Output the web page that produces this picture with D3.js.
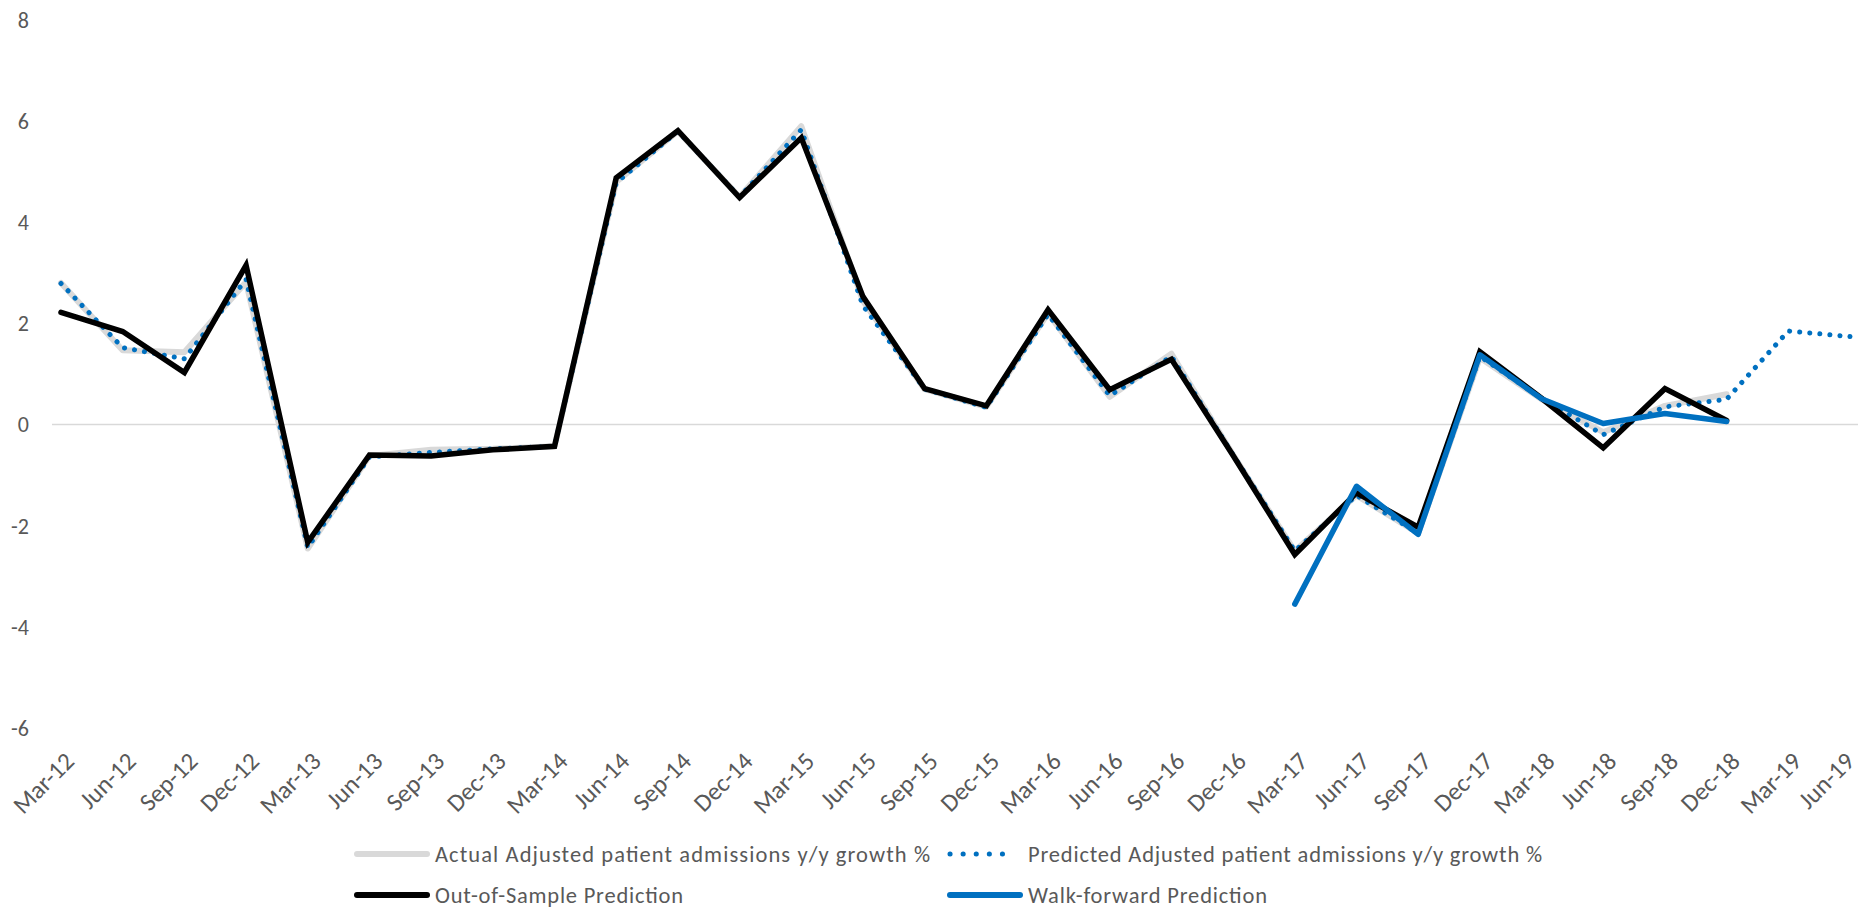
<!DOCTYPE html>
<html>
<head>
<meta charset="utf-8">
<script src="https://cdn.jsdelivr.net/npm/d3@7"></script>
<style>
  html, body { margin: 0; padding: 0; background: #fff; }
  svg { display: block; }
  text { font-family: Carlito, Calibri, Lato, sans-serif; fill: #595959; }
</style>
</head>
<body>
<svg id="chart" width="1864" height="908"></svg>
<script>
const categories = ["Mar-12","Jun-12","Sep-12","Dec-12","Mar-13","Jun-13","Sep-13","Dec-13","Mar-14","Jun-14","Sep-14","Dec-14","Mar-15","Jun-15","Sep-15","Dec-15","Mar-16","Jun-16","Sep-16","Dec-16","Mar-17","Jun-17","Sep-17","Dec-17","Mar-18","Jun-18","Sep-18","Dec-18","Mar-19","Jun-19"];

const actual = [2.80, 1.47, 1.43, 2.82, -2.45, -0.62, -0.50, -0.48, -0.43, 4.80, 5.80, 4.50, 5.90, 2.45, 0.70, 0.35, 2.20, 0.55, 1.40, -0.60, -2.50, -1.40, -2.15, 1.32, 0.50, -0.15, 0.37, 0.60];

const predicted = [2.79, 1.52, 1.30, 2.87, -2.43, -0.64, -0.55, -0.48, -0.43, 4.78, 5.80, 4.50, 5.83, 2.35, 0.70, 0.34, 2.18, 0.57, 1.35, -0.60, -2.50, -1.40, -2.15, 1.35, 0.52, -0.20, 0.35, 0.50, 1.85, 1.74];

const outOfSample = [2.22, 1.84, 1.03, 3.15, -2.33, -0.60, -0.62, -0.50, -0.43, 4.88, 5.81, 4.49, 5.67, 2.53, 0.71, 0.37, 2.27, 0.69, 1.29, -0.61, -2.57, -1.35, -2.03, 1.44, 0.52, -0.46, 0.71, 0.08];

const walkForwardStart = "Mar-17";
const walkForward = [-3.55, -1.22, -2.17, 1.38, 0.51, 0.02, 0.22, 0.06];

const yTicks = [8, 6, 4, 2, 0, -2, -4, -6];

const legendLabels = [
  "Actual Adjusted patient admissions y/y growth %",
  "Predicted Adjusted patient admissions y/y growth %",
  "Out-of-Sample Prediction",
  "Walk-forward Prediction"
];

const svg = d3.select("#chart");
const W = 1864;

const x = d3.scalePoint().domain(categories).range([61, 1850]);
const y = d3.scaleLinear().domain([-6, 8]).range([728, 20]);

// y tick labels
svg.append("g").selectAll("text").data(yTicks).join("text")
  .attr("x", 29).attr("y", d => y(d))
  .attr("text-anchor", "end").attr("dy", "0.36em")
  .style("font-size", "22px")
  .text(d => d);

// zero line
svg.append("line")
  .attr("x1", x(categories[0]) - 9).attr("x2", x(categories[categories.length - 1]) + 8)
  .attr("y1", y(0)).attr("y2", y(0))
  .attr("stroke", "#d9d9d9").attr("stroke-width", 1.5);

// x tick labels (shifted left only if they would run past the right edge)
svg.append("g").selectAll("text").data(categories).join("text")
  .attr("text-anchor", "end")
  .attr("transform", d => `translate(${x(d) + 2},${750}) rotate(-45)`)
  .attr("dy", "0.72em")
  .style("font-size", "25px")
  .text(d => d)
  .each(function(d) {
    const r = this.getBoundingClientRect();
    const over = r.right - (W - 3);
    if (over > 0) {
      d3.select(this).attr("transform", `translate(${x(d) + 2 - over},${750}) rotate(-45)`);
    }
  });

const line = d3.line().x(d => x(d.c)).y(d => y(d.v));
const toPts = (arr, offset = 0) => arr.map((v, i) => ({ c: categories[i + offset], v }));

svg.append("path").datum(toPts(actual))
  .attr("d", line).attr("fill", "none")
  .attr("stroke", "#d9d9d9").attr("stroke-width", 6)
  .attr("stroke-linejoin", "round").attr("stroke-linecap", "round");

svg.append("path").datum(toPts(predicted))
  .attr("d", line).attr("fill", "none")
  .attr("stroke", "#0070c0").attr("stroke-width", 5)
  .attr("stroke-dasharray", "0.1 10").attr("stroke-linecap", "round");

svg.append("path").datum(toPts(outOfSample))
  .attr("d", line).attr("fill", "none")
  .attr("stroke", "#000").attr("stroke-width", 5.5)
  .attr("stroke-linejoin", "miter").attr("stroke-linecap", "round");

svg.append("path").datum(toPts(walkForward, categories.indexOf(walkForwardStart)))
  .attr("d", line).attr("fill", "none")
  .attr("stroke", "#0070c0").attr("stroke-width", 5.5)
  .attr("stroke-linejoin", "round").attr("stroke-linecap", "round");

// legend
const legendItems = [
  { label: legendLabels[0], x: 357, y: 854, color: "#d9d9d9", w: 6, dash: null, tw: 495 },
  { label: legendLabels[1], x: 950, y: 854, color: "#0070c0", w: 5, dash: "0.1 13", tw: 514 },
  { label: legendLabels[2], x: 357, y: 895, color: "#000", w: 6, dash: null, tw: 248 },
  { label: legendLabels[3], x: 950, y: 895, color: "#0070c0", w: 6, dash: null, tw: 239 }
];
const lg = svg.append("g").selectAll("g").data(legendItems).join("g");
lg.append("line")
  .attr("x1", d => d.x).attr("x2", d => d.x + (d.dash ? 65 : 70))
  .attr("y1", d => d.y).attr("y2", d => d.y)
  .attr("stroke", d => d.color).attr("stroke-width", d => d.w)
  .attr("stroke-linecap", "round")
  .attr("stroke-dasharray", d => d.dash);
lg.append("text")
  .attr("x", d => d.x + 78).attr("y", d => d.y)
  .attr("dy", "0.34em")
  .style("font-size", "22.5px")
  .attr("textLength", d => d.tw)
  .attr("lengthAdjust", "spacing")
  .text(d => d.label);
</script>
</body>
</html>
